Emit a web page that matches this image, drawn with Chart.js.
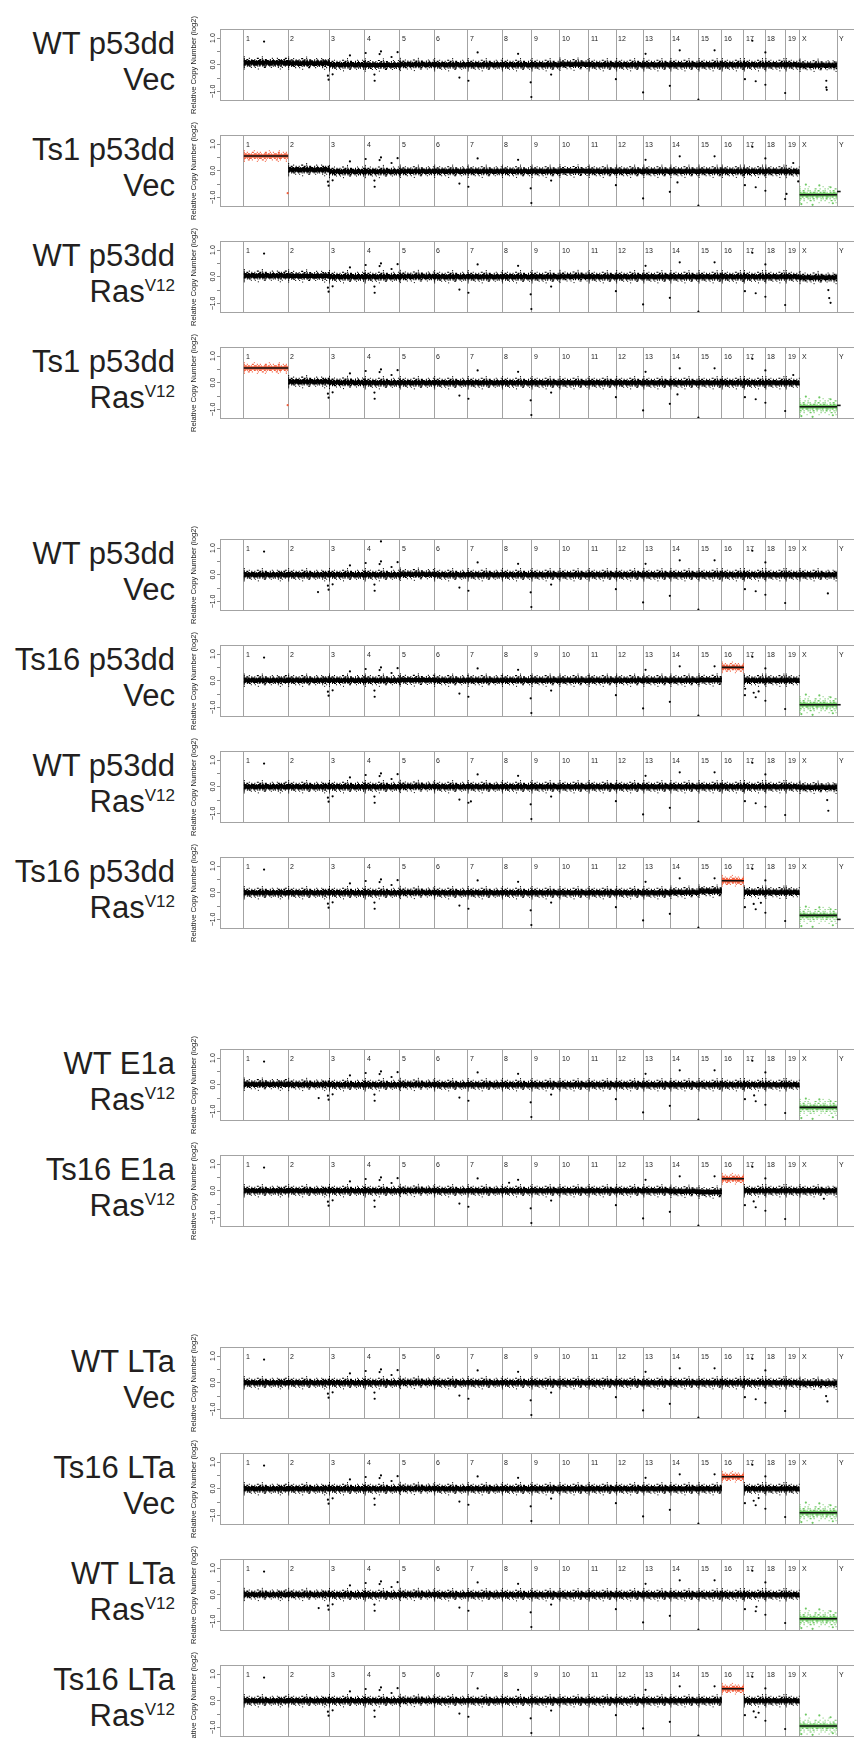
<!DOCTYPE html>
<html>
<head>
<meta charset="utf-8">
<script src="https://cdn.jsdelivr.net/npm/chart.js@4.4.0/dist/chart.umd.min.js"></script>
<style>
  html, body { margin: 0; padding: 0; background: #fff; }
  body { width: 854px; height: 1738px; overflow: hidden; position: relative;
         font-family: "Liberation Sans", Arial, Helvetica, sans-serif; }
  .lbl { position: absolute; right: 679px; text-align: right; color: #231f20;
         font-size: 31px; line-height: 36px; white-space: nowrap; }
  .lbl .sup { font-size: 17px; position: relative; top: -11px; }
  canvas.panel { position: absolute; left: 185px; }
</style>
</head>
<body>
<script>
// chromosome layout (mm9, Mb)
const chromNames   = ['1','2','3','4','5','6','7','8','9','10','11','12','13','14','15','16','17','18','19','X','Y'];
const chromLengths = [197.2, 181.7, 159.6, 155.6, 152.5, 149.5, 152.5, 131.7, 124.1, 130.0,
                      121.8, 121.3, 120.3, 125.2, 103.5, 98.3, 95.3, 90.8, 61.3, 166.7, 15.9];

// panels
const panelTops  = [29, 135, 241, 347, 539, 645, 751, 857, 1049, 1155, 1347, 1453, 1559, 1665];
const labelLine1 = ['WT p53dd', 'Ts1 p53dd', 'WT p53dd', 'Ts1 p53dd',
                    'WT p53dd', 'Ts16 p53dd', 'WT p53dd', 'Ts16 p53dd',
                    'WT E1a', 'Ts16 E1a',
                    'WT LTa', 'Ts16 LTa', 'WT LTa', 'Ts16 LTa'];
const labelLine2 = ['Vec', 'Vec', 'Ras', 'Ras', 'Vec', 'Vec', 'Ras', 'Ras',
                    'Ras', 'Ras', 'Vec', 'Vec', 'Ras', 'Ras'];
const labelSup   = ['', '', 'V12', 'V12', '', '', 'V12', 'V12', 'V12', 'V12', '', '', 'V12', 'V12'];

// y axis
const yTickValues  = [-1, -0.5, 0, 0.5, 1];
const yLabelValues = [1, 0, -1];
const yLabelTexts  = ['1.0', '0.0', '\u22121.0'];

// segment levels (log2), chr1 .. chrX
const levels = [
  [0.07, 0.06, 0.00, -0.01, 0.01, 0.00, 0.00, 0.00, 0.00, 0.02, 0.00, 0.00, 0.00, 0.00, 0.00, 0.00, 0.00, 0.00, 0.00, -0.02],
  [0.55, 0.04, -0.03, -0.03, -0.02, -0.02, -0.02, -0.02, -0.02, -0.01, -0.02, -0.02, -0.02, -0.02, -0.02, -0.02, -0.02, -0.02, -0.03, -0.90],
  [0.04, 0.03, 0.00, 0.00, 0.01, 0.00, 0.00, 0.00, 0.00, 0.01, 0.00, 0.00, 0.00, 0.00, 0.00, 0.00, 0.00, 0.00, 0.00, -0.03],
  [0.55, 0.04, 0.01, 0.00, 0.00, 0.00, 0.00, 0.00, 0.00, 0.00, 0.00, 0.00, 0.00, 0.00, 0.00, 0.00, 0.00, 0.00, 0.00, -0.90],
  [0.00, 0.00, 0.00, 0.00, 0.02, 0.00, 0.00, 0.00, 0.00, 0.00, 0.00, 0.00, 0.00, 0.00, 0.00, 0.00, 0.00, 0.00, 0.00, 0.00],
  [0.02, 0.02, 0.02, 0.02, 0.03, 0.02, 0.02, 0.02, 0.02, 0.02, 0.02, 0.02, 0.02, 0.02, 0.03, 0.50, 0.02, 0.02, 0.02, -0.90],
  [0.00, 0.00, 0.00, 0.00, 0.01, 0.00, 0.00, 0.00, 0.00, 0.00, 0.00, 0.00, 0.00, 0.00, 0.00, 0.00, 0.00, 0.00, 0.00, -0.02],
  [0.00, 0.00, 0.00, 0.00, 0.01, 0.00, 0.00, 0.00, 0.00, 0.00, 0.00, 0.00, 0.00, 0.02, 0.06, 0.45, 0.02, 0.02, 0.02, -0.85],
  [0.02, 0.01, 0.00, 0.00, 0.01, 0.00, 0.00, 0.00, 0.00, 0.00, 0.00, 0.00, 0.00, 0.00, 0.00, 0.00, 0.00, 0.00, 0.00, -0.85],
  [0.00, 0.00, 0.00, 0.00, 0.01, 0.00, 0.00, 0.00, 0.00, 0.00, 0.00, 0.00, 0.00, -0.02, -0.05, 0.45, 0.00, 0.00, 0.00, 0.00],
  [0.00, 0.00, 0.00, 0.00, 0.01, 0.00, 0.00, 0.00, 0.00, 0.00, 0.00, 0.00, 0.00, 0.00, 0.00, 0.00, 0.00, 0.00, 0.00, -0.02],
  [0.00, 0.00, 0.00, 0.00, 0.01, 0.00, 0.00, 0.00, 0.00, 0.00, 0.00, 0.00, 0.00, 0.00, 0.00, 0.45, 0.00, 0.00, 0.00, -0.90],
  [0.01, 0.01, 0.00, 0.00, 0.01, 0.00, 0.00, 0.00, 0.00, 0.00, 0.00, 0.00, 0.00, 0.00, 0.00, 0.00, 0.00, 0.00, 0.00, -0.90],
  [0.00, 0.00, 0.00, 0.00, 0.01, 0.00, 0.00, 0.00, 0.00, 0.00, 0.00, 0.00, 0.00, 0.00, 0.00, 0.45, 0.00, 0.00, 0.00, -0.95]
];
const gainChrom = [null, 0, null, 0, null, 15, null, 15, null, 15, null, 15, null, 15];
const maleX     = [false, true, false, true, false, true, false, true, true, false, false, true, true, true];
const yDash     = [null, -0.78, null, -0.85, null, -0.9, null, -1.0, null, null, null, null, null, null];

// single probes away from the band: [Mb, log2]
const sharedOutliers = [
  [374, -0.41], [377, -0.56], [395, -0.36], [472, 0.35],
  [542, 0.44], [581, -0.37], [582, -0.60], [604, 0.40], [610, 0.50], [657, 0.29], [684, 0.47],
  [959, -0.48], [999, -0.60], [1040, 0.46], [1220, 0.41],
  [1276, -0.66], [1279, -1.21], [1367, -0.37], [1655, -0.54],
  [1776, -1.04], [1787, 0.41], [1895, -0.79], [1939, 0.54],
  [2022, -1.31], [2094, 0.54], [2229, -0.54], [2262, 0.90], [2277, -0.62],
  [2320, 0.46], [2320, -0.75], [2408, -1.06]
];
const chr1Dot = [[90, 0.87]];
const extraOutliers = [
  [[2591, -0.60], [2591, -0.85], [2593, -0.94]],
  [[2414, -0.87], [2444, 0.29], [2466, -0.40], [1929, -0.44]],
  [[2600, -0.50], [2604, -0.80], [2610, -0.98]],
  [[2444, 0.29], [1929, -0.44]],
  [[610, 1.25], [330, -0.65], [2598, -0.70]],
  [[2268, -0.45], [2290, -0.40], [2230, -0.30]],
  [[2595, -0.50], [2600, -0.90], [1010, -0.55]],
  [[2268, -0.42], [2300, -0.38]],
  [[333, -0.50], [2270, -0.40]],
  [[2268, -0.40], [2580, -0.30], [1180, 0.30]],
  [[2590, -0.50], [2596, -0.70]],
  [[2268, -0.45], [2290, -0.35]],
  [[333, -0.50], [2280, -0.45]],
  [[2268, -0.40], [2290, -0.45]]
];
const redOutliers   = [[195, -0.84]];
const greenOutliers = [[2480, -1.25], [2500, -0.52], [2560, -0.55], [2620, -1.22], [2530, -1.28], [2610, -0.62]];

const starts = [0];
chromLengths.forEach(l => starts.push(starts[starts.length - 1] + l));
const boundaries = starts.slice(0, chromNames.length);

const X_MIN = -106, X_MAX = 2767.6, Y_MIN = -1.36, Y_MAX = 1.34;
const RED = '#f2603f', GREEN = '#6fc864';

const panelDecor = {
  id: 'panelDecor',
  afterDraw(chart) {
    const { ctx, chartArea: a, scales: { x, y } } = chart;
    ctx.save();
    ctx.strokeStyle = '#a3a3a3';
    ctx.lineWidth = 1;
    ctx.strokeRect(a.left + 0.5, a.top + 0.5, a.right - a.left - 1, a.bottom - a.top - 1);

    ctx.fillStyle = '#222';
    ctx.font = '7px "Liberation Sans", Arial, sans-serif';
    ctx.textAlign = 'left';
    ctx.textBaseline = 'alphabetic';
    chromNames.forEach((n, i) => {
      ctx.fillText(n, Math.round(x.getPixelForValue(boundaries[i])) + 2, a.top + 12);
    });

    ctx.textAlign = 'center';
    ctx.textBaseline = 'middle';
    yLabelValues.forEach((v, i) => {
      ctx.save();
      ctx.translate(28, y.getPixelForValue(v));
      ctx.rotate(-Math.PI / 2);
      ctx.fillText(yLabelTexts[i], 0, 0);
      ctx.restore();
    });

    ctx.font = '7.6px "Liberation Sans", Arial, sans-serif';
    ctx.translate(8.5, (a.top + a.bottom) / 2);
    ctx.rotate(-Math.PI / 2);
    ctx.fillText('Relative Copy Number (log2)', 0, 0);
    ctx.restore();
  }
};

// step line through the picked segments, shifted by d (used for the band texture)
function segLine(lv, pick, d = 0) {
  const pts = [];
  lv.forEach((v, i) => {
    if (!pick(i)) return;
    pts.push({ x: starts[i], y: v + d }, { x: starts[i + 1], y: v + d }, { x: starts[i + 1], y: null });
  });
  return pts;
}
const toPts = arr => arr.map(p => ({ x: p[0], y: p[1] }));

function band(data, color, width, dash) {
  return { data, showLine: true, borderColor: color, borderWidth: width, pointRadius: 0,
           borderCapStyle: 'butt', borderDash: dash || [], spanGaps: false, tension: 0 };
}
function dots(data, color) {
  return { data, showLine: false, pointRadius: 1.1, pointBackgroundColor: color, pointBorderWidth: 0 };
}

// texture rows for a noisy band: offset, width, dash pattern
const blackRows = [
  [0.07, 1.8, [3, 1, 2, 1, 4, 1, 1, 1]], [-0.07, 1.8, [2, 1, 3, 1, 1, 1, 5, 1]],
  [0.12, 1.4, [1, 1.5, 2, 3, 1, 2, 1, 4, 2, 1]], [-0.12, 1.4, [1, 2, 1, 1, 2, 3, 1, 2.5, 1, 1]],
  [0.17, 1.1, [1, 4, 1, 7, 2, 3, 1, 9]], [-0.17, 1.1, [1, 6, 1, 3, 1, 8, 2, 5]],
  [0.23, 1, [1, 17, 1, 29, 1, 11, 1, 23]], [-0.23, 1, [1, 13, 1, 21, 1, 31, 1, 9]]
];
const redRows = [
  [0.08, 1.6, [3, 1, 2, 1, 1, 2]], [-0.08, 1.6, [2, 1, 1, 1, 3, 2]],
  [0.14, 1.2, [1, 2, 1, 4, 2, 3]], [-0.14, 1.2, [1, 3, 2, 2, 1, 5]],
  [0.2, 1, [1, 9, 1, 14]], [-0.2, 1, [1, 12, 1, 7]]
];
const greenRows = [
  [0.08, 1.6, [2, 1, 3, 1, 1, 2]], [-0.08, 1.6, [1, 1, 2, 2, 3, 1]],
  [0.15, 1.3, [1, 2, 2, 3, 1, 1, 1, 4]], [-0.15, 1.3, [2, 2, 1, 3, 1, 1, 1, 2]],
  [0.22, 1.1, [1, 4, 1, 2, 1, 6, 2, 3]], [-0.22, 1.1, [1, 3, 1, 5, 2, 2, 1, 6]],
  [0.3, 1, [1, 8, 1, 13, 1, 5]], [-0.3, 1, [1, 6, 1, 11, 1, 9]]
];

function textured(lv, pick, coreColor, coreWidth, rowColor, rows) {
  const out = [band(segLine(lv, pick), coreColor, coreWidth)];
  rows.forEach(r => out.push(band(segLine(lv, pick, r[0]), rowColor, r[1], r[2])));
  return out;
}

panelTops.forEach((top, p) => {
  const lbl = document.createElement('div');
  lbl.className = 'lbl';
  lbl.style.top = (top - 3) + 'px';
  lbl.innerHTML = labelLine1[p] + '<br>' + labelLine2[p] +
    (labelSup[p] ? '<span class="sup">' + labelSup[p] + '</span>' : '');
  document.body.appendChild(lbl);

  const cv = document.createElement('canvas');
  cv.className = 'panel';
  cv.width = 685;
  cv.height = 104;
  cv.style.top = (top - 16) + 'px';
  document.body.appendChild(cv);

  const lv = levels[p];
  const g = gainChrom[p];
  const male = maleX[p];
  const isBlack = i => i !== g && !(i === 19 && male);
  const special = i => i === g || (i === 19 && male);

  let outl = sharedOutliers.concat(extraOutliers[p]);
  if (g !== 0) outl = outl.concat(chr1Dot);

  // first dataset is drawn on top
  let datasets = [];
  datasets.push(band(segLine(lv, special), '#111', 1.6));
  if (yDash[p] !== null) {
    datasets.push(band([{ x: starts[20], y: yDash[p] }, { x: starts[21], y: yDash[p] }], '#111', 1.6));
  }
  datasets.push(dots(toPts(outl), '#000'));
  if (g !== null) {
    datasets.push(dots(toPts(g === 0 ? redOutliers : []), RED));
    datasets = datasets.concat(textured(lv, i => i === g, RED, 3.5, RED, redRows));
  }
  if (male) {
    datasets.push(dots(toPts(greenOutliers), GREEN));
    datasets = datasets.concat(textured(lv, i => i === 19, GREEN, 3.5, GREEN, greenRows));
  }
  datasets = datasets.concat(textured(lv, isBlack, '#000', 4, '#000', blackRows));

  new Chart(cv, {
    type: 'scatter',
    data: { datasets },
    options: {
      responsive: false,
      animation: false,
      events: [],
      layout: { padding: { top: 16, bottom: 16, left: 0, right: 0 } },
      plugins: { legend: { display: false }, tooltip: { enabled: false } },
      scales: {
        x: {
          type: 'linear', min: X_MIN, max: X_MAX,
          afterFit: s => { s.height = 0; },
          afterBuildTicks: s => { s.ticks = boundaries.map(v => ({ value: v })); },
          ticks: { display: false },
          grid: { color: '#a3a3a3', lineWidth: 1, drawTicks: false },
          border: { display: false }
        },
        y: {
          type: 'linear', min: Y_MIN, max: Y_MAX,
          afterFit: s => { s.width = 35; },
          afterBuildTicks: s => { s.ticks = yTickValues.map(v => ({ value: v })); },
          ticks: { display: false },
          grid: { drawOnChartArea: false, drawTicks: true, tickLength: 3, color: '#8a8a8a' },
          border: { display: false }
        }
      }
    },
    plugins: [panelDecor]
  });
});
</script>
</body>
</html>
